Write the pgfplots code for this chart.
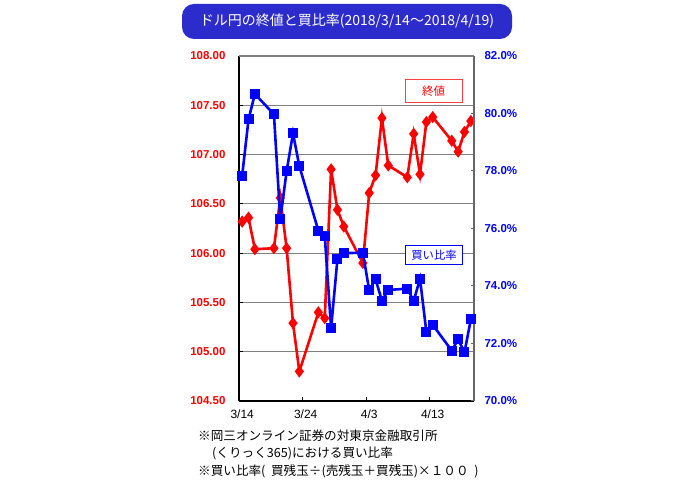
\documentclass[border=0pt]{standalone}
\usepackage{fontspec}
\setmainfont{Liberation Sans}
\newfontfamily\jp{Noto Sans CJK JP}
\usepackage{pgfplots}
\pgfplotsset{compat=1.18}
\definecolor{titleblue}{RGB}{44,44,204}
\definecolor{pred}{RGB}{255,0,0}
\definecolor{pblue}{RGB}{0,0,255}
\begin{document}
\begin{tikzpicture}
\useasboundingbox (0pt,0pt) rectangle (700pt,486pt);
\fill[white] (0pt,0pt) rectangle (700pt,486pt);
% title
\fill[titleblue, rounded corners=12pt] (182pt,447pt) rectangle (512pt,482pt);
\node[white, inner sep=0pt, font=\jp\fontsize{14pt}{16pt}\selectfont] at (347pt,464.5pt) {ドル円の終値と買比率(2018/3/14～2018/4/19)};
% primary axis (closing price)
\begin{axis}[
  at={(239pt,85pt)}, anchor=south west, width=235pt, height=345pt, scale only axis,
  xmin=-0.5, xmax=36.5, ymin=104.5, ymax=108,
  separate axis lines, axis x line*=bottom, axis y line*=left,
  x axis line style={black, line width=1.5pt, -},
  y axis line style={black, line width=1.5pt, -},
  xtick={-0.5,9.5,19.5,29.5}, xticklabels={3/14,3/24,4/3,4/13},
  xticklabel style={font=\fontsize{12pt}{14pt}\selectfont, xshift=3.2pt, yshift=-5pt},
  ytick={104.5,105,105.5,106,106.5,107,107.5,108},
  yticklabel style={font=\bfseries\fontsize{11.5pt}{13pt}\selectfont, text=pred, xshift=-10pt,
    /pgf/number format/.cd, fixed, fixed zerofill, precision=2, assume math mode=true},
  ymajorgrids, grid style={gray, line width=0.9pt},
  tick style={black, line width=1pt}, major tick length=4pt, tick align=inside,
  clip=false,
]
\addplot[pred, line width=2.6pt, mark=diamond*, mark size=4pt, mark options={solid, fill=pred}] coordinates {
(0,106.32)(1,106.36)(2,106.04)(5,106.05)(6,106.56)(7,106.05)(8,105.29)(9,104.80)
(12,105.40)(13,105.34)(14,106.85)(15,106.44)(16,106.27)(19,105.90)(20,106.61)
(21,106.79)(22,107.37)(23,106.89)(26,106.77)(27,107.21)(28,106.80)(29,107.33)
(30,107.38)(33,107.14)(34,107.03)(35,107.23)(36,107.34)};
\end{axis}
% secondary axis (buy ratio)
\begin{axis}[
  at={(239pt,85pt)}, anchor=south west, width=235pt, height=345pt, scale only axis,
  xmin=-0.5, xmax=36.5, ymin=70, ymax=82,
  separate axis lines, axis y line*=right, axis x line*=top,
  x axis line style={gray, line width=1.2pt, -},
  y axis line style={black!60, line width=1.5pt, -},
  xtick=\empty,
  ytick={70,72,74,76,78,80,82},
  yticklabel={\pgfmathprintnumber[fixed,fixed zerofill,precision=1,assume math mode=true]{\tick}\%},
  yticklabel style={font=\bfseries\fontsize{11.5pt}{13pt}\selectfont, text=pblue, xshift=7pt},
  tick style={black!60, line width=1pt}, major tick length=3pt, tick align=inside,
  clip=false,
]
\addplot[pblue, line width=2.6pt, mark=square*, mark size=3.7pt, mark options={solid, fill=pblue}] coordinates {
(0,77.84)(1,79.80)(2,80.68)(5,79.97)(6,76.32)(7,78.00)(8,79.31)(9,78.17)
(12,75.92)(13,75.74)(14,72.53)(15,74.94)(16,75.14)(19,75.16)(20,73.85)
(21,74.23)(22,73.49)(23,73.86)(26,73.91)(27,73.48)(28,74.25)(29,72.40)
(30,72.65)(33,71.75)(34,72.15)(35,71.69)(36,72.84)};
\end{axis}
% legend-like labels
\draw[pred!75, line width=1pt, fill=white] (405pt,383pt) rectangle (462pt,406pt);
\node[text=pred, inner sep=0pt, font=\jp\fontsize{11.5pt}{13pt}\selectfont] at (433.5pt,394.5pt) {終値};
\draw[pblue, line width=1pt, fill=white] (405.5pt,221pt) rectangle (462.5pt,240.5pt);
\node[text=pblue, inner sep=0pt, font=\jp\fontsize{11.3pt}{13pt}\selectfont] at (434pt,230.7pt) {買い比率};
% notes
\node[anchor=west, inner sep=0pt, font=\jp\fontsize{12.6pt}{14pt}\selectfont] at (198pt,50pt) {※岡三オンライン証券の対東京金融取引所};
\node[anchor=west, inner sep=0pt, font=\jp\fontsize{12.6pt}{14pt}\selectfont] at (212pt,33pt) {(くりっく365)における買い比率};
\node[anchor=west, inner sep=0pt, font=\jp\fontsize{12.6pt}{14pt}\selectfont] at (198pt,15pt) {※買い比率(\ \ 買残玉÷(売残玉＋買残玉)×１００\ \ )};
\end{tikzpicture}
\end{document}
